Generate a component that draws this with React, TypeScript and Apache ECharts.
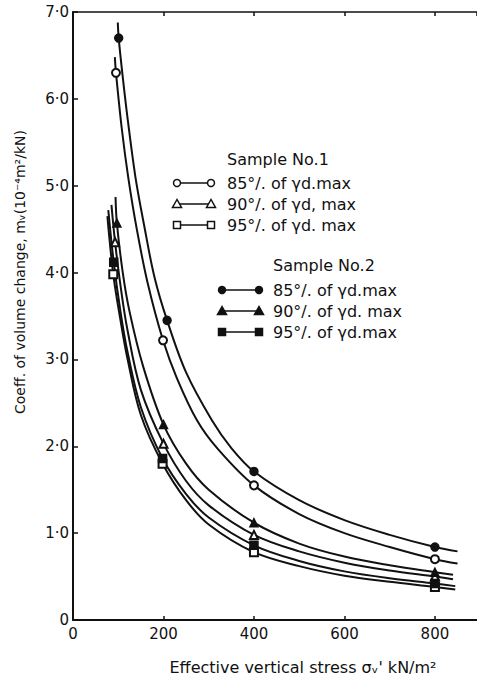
import React, { useEffect, useRef } from "react";
import * as echarts from "echarts";

// Measured points [stress kN/m², mv 10^-4 m²/kN]
const s1p85Points = [[95, 6.3], [199, 3.22], [400, 1.55], [800, 0.7]];
const s1p90Points = [[93, 4.35], [200, 2.03], [400, 0.98], [800, 0.5]];
const s1p95Points = [[89, 3.98], [198, 1.8], [400, 0.78], [800, 0.38]];
const s2p85Points = [[101, 6.7], [208, 3.45], [400, 1.71], [800, 0.84]];
const s2p90Points = [[97, 4.57], [200, 2.25], [400, 1.12], [800, 0.55]];
const s2p95Points = [[90, 4.12], [198, 1.86], [400, 0.86], [800, 0.42]];

// Fitted curves
const s1p85Curve = [[92.5, 6.48], [95, 6.3], [108, 5.65], [122, 5.1], [141, 4.5], [165, 3.88], [199, 3.22], [230, 2.78], [274, 2.3], [320, 1.97], [400, 1.55], [500, 1.22], [600, 1.0], [700, 0.84], [800, 0.7], [850, 0.65]];
const s2p85Curve = [[99, 6.88], [101, 6.7], [110, 6.25], [121, 5.76], [138, 5.1], [157, 4.55], [180, 3.95], [208, 3.45], [250, 2.85], [307, 2.3], [350, 1.98], [400, 1.71], [500, 1.38], [600, 1.15], [700, 0.98], [800, 0.84], [850, 0.79]];
const s2p90Curve = [[94, 4.87], [97, 4.57], [110, 4.0], [125, 3.55], [155, 2.92], [200, 2.25], [250, 1.8], [300, 1.5], [400, 1.12], [500, 0.88], [600, 0.73], [700, 0.63], [800, 0.55], [840, 0.52]];
const s1p90Curve = [[85, 4.78], [93, 4.35], [105, 3.85], [120, 3.35], [150, 2.65], [200, 2.03], [250, 1.6], [300, 1.32], [400, 0.98], [500, 0.79], [600, 0.66], [700, 0.57], [800, 0.5], [840, 0.47]];
const s2p95Curve = [[78, 4.72], [90, 4.12], [105, 3.55], [120, 3.1], [150, 2.45], [198, 1.86], [250, 1.45], [300, 1.18], [400, 0.86], [500, 0.68], [600, 0.56], [700, 0.48], [800, 0.42], [845, 0.39]];
const s1p95Curve = [[76, 4.65], [89, 3.98], [105, 3.45], [120, 3.02], [150, 2.36], [198, 1.8], [250, 1.38], [300, 1.1], [400, 0.78], [500, 0.62], [600, 0.51], [700, 0.44], [800, 0.38], [845, 0.35]];

const legend1Labels = ["85°/. of γd.max", "90°/. of γd, max", "95°/. of γd. max"];
const legend2Labels = ["85°/. of γd.max", "90°/. of γd. max", "95°/. of γd.max"];

const FONT = "DejaVu Sans";
const INK = "#111";

function curve(data: number[][]) {
  return {
    type: "line",
    data,
    smooth: 0.35,
    showSymbol: false,
    lineStyle: { color: INK, width: 2 },
    z: 2,
  };
}

function pts(data: number[][], symbol: string) {
  return {
    type: "scatter",
    data,
    symbol,
    symbolSize: 8,
    itemStyle: { color: INK, borderColor: INK, borderWidth: 1.5, opacity: 1 },
    z: 3,
  };
}

function legendRow(x1: number, x2: number, y: number, kind: string, filled: boolean, label: string, tx: number) {
  const fill = filled ? INK : "#fff";
  const mk = (cx: number): any => {
    if (kind === "circle") return { type: "circle", shape: { cx, cy: y, r: 3.5 }, style: { fill, stroke: INK, lineWidth: 1.5 }, z: 5 };
    if (kind === "triangle") return { type: "polygon", shape: { points: [[cx, y - 4.5], [cx - 4.5, y + 3.5], [cx + 4.5, y + 3.5]] }, style: { fill, stroke: INK, lineWidth: 1.5 }, z: 5 };
    return { type: "rect", shape: { x: cx - 3.5, y: y - 3.5, width: 7, height: 7 }, style: { fill, stroke: INK, lineWidth: 1.5 }, z: 5 };
  };
  return [
    { type: "line", shape: { x1, y1: y, x2, y2: y }, style: { stroke: INK, lineWidth: 1.5 }, z: 4 },
    mk(x1),
    mk(x2),
    { type: "text", x: tx, y, style: { text: label, font: `16px "${FONT}"`, fill: INK, verticalAlign: "middle", align: "left" }, z: 5 },
  ];
}

export default function App() {
  const ref = useRef<HTMLDivElement>(null);
  useEffect(() => {
    if (!ref.current) return;
    const chart = echarts.init(ref.current, null, { renderer: "svg" });
    const kinds = ["circle", "triangle", "rect"];
    const graphic: any[] = [
      { type: "text", x: 227, y: 159, style: { text: "Sample No.1", font: `16px "${FONT}"`, fill: INK, verticalAlign: "middle" } },
      { type: "text", x: 273, y: 265, style: { text: "Sample No.2", font: `16px "${FONT}"`, fill: INK, verticalAlign: "middle" } },
      {
        type: "text", x: 20, y: 272, rotation: Math.PI / 2,
        style: { text: "Coeff. of volume change, mᵥ(10⁻⁴m²/kN)", font: `14px "${FONT}"`, fill: INK, align: "center", verticalAlign: "middle" },
      },
      {
        type: "text", x: 303, y: 667,
        style: { text: "Effective vertical stress σᵥ' kN/m²", font: `16px "${FONT}"`, fill: INK, align: "center", verticalAlign: "middle" },
      },
    ];
    kinds.forEach((k, i) => {
      graphic.push(...legendRow(177, 211, 183 + i * 21, k, false, legend1Labels[i], 227));
      graphic.push(...legendRow(222, 259, 290 + i * 21, k, true, legend2Labels[i], 273));
    });
    chart.setOption({
      animation: false,
      backgroundColor: "#fff",
      grid: { left: 73, right: 0, top: 12, bottom: 63, containLabel: false },
      xAxis: [
        {
          type: "value", min: 0, max: 893, interval: 200,
          axisLine: { lineStyle: { color: INK, width: 2 } },
          axisTick: { inside: true, length: 4, lineStyle: { color: INK, width: 1.5 } },
          axisLabel: { color: INK, fontSize: 15, fontFamily: FONT, margin: 6, showMaxLabel: false },
          splitLine: { show: false },
        },
        {
          type: "value", position: "top", min: 0, max: 893, interval: 200,
          axisLine: { lineStyle: { color: INK, width: 1.5 } },
          axisTick: { inside: true, length: 4, lineStyle: { color: INK, width: 1.5 } },
          axisLabel: { show: false },
          splitLine: { show: false },
        },
      ],
      yAxis: {
        type: "value", min: 0, max: 7, interval: 1,
        axisLine: { show: true, lineStyle: { color: INK, width: 2 } },
        axisTick: { show: true, inside: true, length: 5, lineStyle: { color: INK, width: 1.5 } },
        axisLabel: {
          color: INK, fontSize: 15, fontFamily: FONT, margin: 4,
          formatter: (v: number) => (v === 0 ? "0" : v.toFixed(1).replace(".", "·")),
        },
        splitLine: { show: false },
      },
      graphic,
      series: [
        curve(s1p85Curve), curve(s2p85Curve), curve(s1p90Curve), curve(s2p90Curve), curve(s1p95Curve), curve(s2p95Curve),
        pts(s1p85Points, "emptyCircle"), pts(s2p85Points, "circle"),
        pts(s1p90Points, "emptyTriangle"), pts(s2p90Points, "triangle"),
        pts(s1p95Points, "emptyRect"), pts(s2p95Points, "rect"),
      ],
    });
    return () => chart.dispose();
  }, []);
  return <div ref={ref} style={{ position: "fixed", left: 0, top: 0, width: 477, height: 683, background: "#fff" }} />;
}
